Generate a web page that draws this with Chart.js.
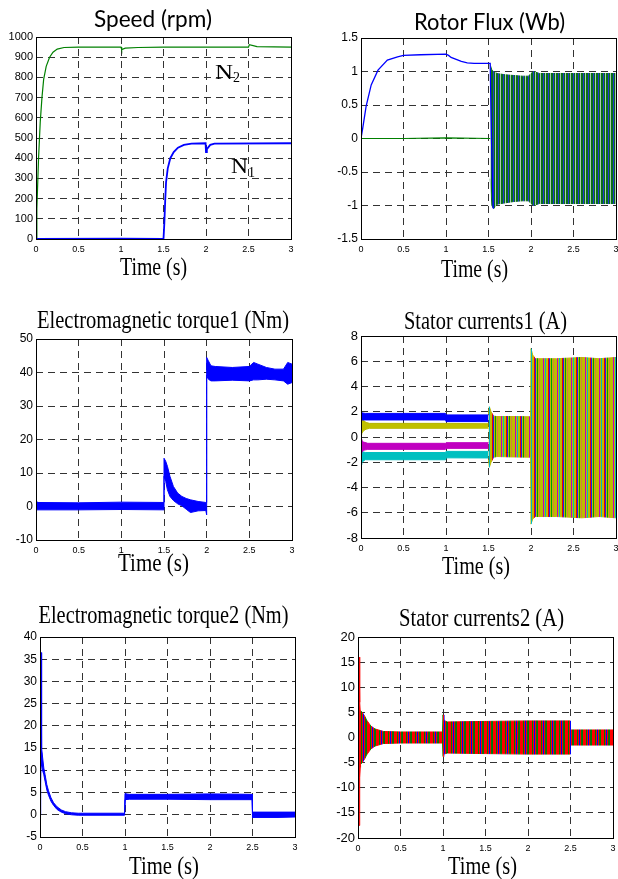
<!DOCTYPE html>
<html>
<head>
<meta charset="utf-8">
<script src="https://cdn.jsdelivr.net/npm/chart.js@4.4.1/dist/chart.umd.min.js"></script>
<style>
  html, body { margin: 0; padding: 0; width: 618px; height: 879px; overflow: hidden; background: #fff; }
  canvas { position: absolute; }
</style>
</head>
<body>
<script>
// ---- data (time in s) ----
const timeAxis = [0, 3, 0.5];

// Speed (rpm)
const speedAxis = [0, 1000, 100];
const speedT2 = [0, 0.01, 0.03, 0.05, 0.07, 0.09, 0.12, 0.16, 0.2, 0.25, 0.33, 0.5, 1.0, 1.008, 1.05, 1.2, 1.5, 2.5, 2.51, 2.6, 3.0];
const speedN2 = [0, 150, 400, 580, 700, 790, 855, 900, 925, 940, 948, 950, 950, 938, 945, 948, 950, 950, 962, 952, 950];
const speedT1 = [0, 1.0, 1.5, 1.51, 1.52, 1.53, 1.55, 1.58, 1.62, 1.67, 1.74, 1.83, 1.995, 2.0, 2.01, 2.05, 2.1, 3.0];
const speedN1 = [0, 2, 0, 80, 190, 280, 350, 400, 430, 452, 466, 472, 474, 430, 445, 466, 472, 474];

// Rotor flux (Wb)
const fluxAxis = [-1.5, 1.5, 0.5];
const fluxDT = [0, 0.02, 0.06, 0.12, 0.2, 0.31, 0.43, 0.5, 0.7, 1.0, 1.03, 1.06, 1.12, 1.18, 1.25, 1.33, 1.45, 1.52, 1.535, 1.555];
const fluxD = [0, 0.15, 0.48, 0.8, 1.02, 1.17, 1.22, 1.24, 1.25, 1.26, 1.24, 1.21, 1.18, 1.15, 1.13, 1.12, 1.12, 1.12, 0, -1.04];
const fluxQT = [0, 0.5, 1.0, 1.52];
const fluxQ = [0, 0, 0.01, 0];
const fluxBandT = [1.52, 1.54, 1.56, 1.6, 1.7, 1.8, 1.9, 1.97, 2.0, 2.03, 2.1, 2.5, 3.0];
const fluxBandHi = [1.1, 1.02, 1.0, 0.97, 0.95, 0.94, 0.93, 0.93, 0.97, 1.0, 0.97, 0.97, 0.97];
const fluxBandLo = [-0.6, -1.0, -1.05, -0.98, -0.96, -0.94, -0.93, -0.93, -0.97, -1.0, -0.97, -0.97, -0.97];

// Electromagnetic torque1 (Nm)
const torque1Axis = [-10, 50, 10];
const torque1T = [0, 0.01, 0.5, 1.0, 1.5, 1.5, 1.52, 1.54, 1.57, 1.61, 1.66, 1.71, 1.76, 1.81, 1.9, 1.99, 2.0, 2.0, 2.02, 2.05, 2.1, 2.3, 2.5, 2.55, 2.6, 2.7, 2.8, 2.9, 2.95, 3.0];
const torque1Hi = [1.5, 1.2, 1.1, 1.3, 1.2, 14.4, 13.5, 12, 9, 6, 4, 3, 2.4, 2, 1.5, 1.2, 1.2, 44.5, 43.5, 42, 41.8, 41.5, 41.8, 43, 42.5, 41.5, 41, 41, 43, 42.5];
const torque1Lo = [-1.0, -1.0, -1.0, -0.9, -1.0, 9, 7.5, 5, 3, 1.8, 0.8, 0.2, -0.8, -1.8, -1.3, -1.2, -2.5, 39, 38, 37.5, 37.5, 37.7, 37.5, 37.8, 37.8, 38, 37.8, 37.5, 36.5, 37];

// Stator currents1 (A)
const cur1Axis = [-8, 8, 2];
const cur1BlueT = [0, 0.005, 0.02, 0.05, 0.995, 1.0, 1.5];
const cur1BlueHi = [2.2, 2.0, 1.9, 1.87, 1.87, 1.75, 1.75];
const cur1BlueLo = [1.3, 1.3, 1.35, 1.35, 1.35, 1.22, 1.22];
const cur1OliveT = [0, 0.01, 0.03, 0.06, 0.1, 1.0, 1.5];
const cur1OliveHi = [1.6, 1.5, 1.3, 1.15, 1.08, 1.08, 1.05];
const cur1OliveLo = [0.2, 0.3, 0.5, 0.62, 0.69, 0.69, 0.7];
const cur1MagT = [0, 0.01, 0.03, 0.08, 0.995, 1.0, 1.5];
const cur1MagHi = [-0.2, -0.3, -0.4, -0.5, -0.5, -0.45, -0.45];
const cur1MagLo = [-1.3, -1.2, -1.05, -0.98, -0.98, -0.9, -0.9];
const cur1CyanT = [0, 0.01, 0.05, 0.995, 1.0, 1.5];
const cur1CyanHi = [-1.1, -1.15, -1.23, -1.23, -1.14, -1.14];
const cur1CyanLo = [-2.2, -2.0, -1.8, -1.8, -1.65, -1.66];
const cur1BandT = [1.5, 1.51, 1.53, 1.56, 1.6, 1.8, 1.995, 2.0, 2.02, 2.05, 2.3, 2.6, 2.8, 3.0];
const cur1BandHi = [1.8, 2.4, 2.0, 1.65, 1.62, 1.62, 1.6, 7.0, 6.5, 6.2, 6.2, 6.3, 6.2, 6.3];
const cur1BandLo = [-1.8, -2.4, -2.0, -1.6, -1.55, -1.58, -1.6, -6.9, -6.5, -6.3, -6.3, -6.4, -6.3, -6.4];

// Electromagnetic torque2 (Nm)
const torque2Axis = [-5, 40, 5];
const torque2T = [0, 0.008, 0.012, 0.016, 0.022, 0.03, 0.045, 0.06, 0.08, 0.1, 0.13, 0.16, 0.2, 0.25, 0.3, 0.37, 0.45, 0.995, 1.0, 1.01, 1.05, 1.5, 2.0, 2.495, 2.5, 2.8, 3.0];
const torque2Hi = [0, 36.5, 36.5, 18, 15, 13, 10.5, 9, 6.8, 5.4, 3.8, 2.7, 1.8, 1.1, 0.7, 0.45, 0.35, 0.35, 4.8, 4.7, 4.6, 4.6, 4.7, 4.6, 0.6, 0.6, 0.6];
const torque2Lo = [0, 0, 14, 12, 11, 10, 9, 7.5, 5.6, 4.4, 3.0, 2.1, 1.2, 0.6, 0.25, 0.0, -0.1, -0.1, 3.4, 3.4, 3.5, 3.5, 3.4, 3.4, -0.6, -0.6, -0.5];

// Stator currents2 (A)
const cur2Axis = [-20, 20, 5];
const cur2T = [0, 0.012, 0.018, 0.022, 0.026, 0.03, 0.05, 0.08, 0.1, 0.15, 0.2, 0.3, 0.5, 0.995, 1.0, 1.01, 1.05, 1.5, 2.0, 2.495, 2.5, 3.0];
const cur2Hi = [0, 16, 15, 7, 5.2, 5.3, 5.0, 4.2, 3.5, 2.3, 1.7, 1.2, 1.1, 1.1, 4.5, 3.4, 3.1, 3.2, 3.3, 3.3, 1.5, 1.5];
const cur2Lo = [0, -17.5, -12, -8, -6, -5.3, -5.0, -4.2, -3.5, -2.3, -1.7, -1.2, -1.1, -1.1, -3.8, -3.3, -3.1, -3.2, -3.3, -3.3, -1.5, -1.5];

// ---- drawing ----
const SANS = "'Liberation Sans', Arial, sans-serif";
const SERIF = "'Liberation Serif', 'Times New Roman', serif";
const TITLE_SANS = "Lato, 'Open Sans', sans-serif";

// vertical stripes used for the dense oscillation regions
function stripes(cols) {
  const c = document.createElement('canvas');
  c.width = cols.length;
  c.height = 4;
  const g = c.getContext('2d');
  cols.forEach((col, i) => { g.fillStyle = col; g.fillRect(i, 0, 1, 4); });
  return g.createPattern(c, 'repeat');
}

function pts(xs, ys) {
  return xs.map((x, i) => ({ x: x, y: ys[i] }));
}

function line(xs, ys, color, width) {
  return { data: pts(xs, ys), borderColor: color, borderWidth: width, pointRadius: 0, fill: false, tension: 0 };
}

// a noisy trace drawn as the band between its upper and lower envelope
function band(xs, hi, lo, color, edge) {
  return [
    { data: pts(xs, hi), borderColor: edge || color, borderWidth: 1, backgroundColor: color, pointRadius: 0, fill: '+1', tension: 0 },
    { data: pts(xs, lo), borderColor: edge || color, borderWidth: 1, pointRadius: 0, fill: false, tension: 0 }
  ];
}

function makeChart(box, axis, yFontSize, datasets, texts) {
  const padL = 45, padT = 45, padB = 45, padR = 12;
  const w = box[2] - box[0], h = box[3] - box[1];
  const ox = box[0] - padL, oy = box[1] - padT;
  const cw = w + padL + padR, ch = h + padT + padB;
  const canvas = document.createElement('canvas');
  canvas.width = cw;
  canvas.height = ch;
  canvas.style.left = ox + 'px';
  canvas.style.top = oy + 'px';
  canvas.style.width = cw + 'px';
  canvas.style.height = ch + 'px';
  document.body.appendChild(canvas);

  const frame = {
    id: 'frame',
    afterDatasetsDraw(chart) {
      const a = chart.chartArea, ctx = chart.ctx;
      ctx.save();
      ctx.strokeStyle = '#000';
      ctx.lineWidth = 1;
      ctx.strokeRect(Math.round(a.left) + 0.5, Math.round(a.top) + 0.5, Math.round(a.right - a.left), Math.round(a.bottom - a.top));
      ctx.restore();
    },
    afterDraw(chart) {
      const ctx = chart.ctx;
      texts.forEach((t) => {
        ctx.save();
        ctx.font = t.size + 'px ' + t.family;
        ctx.fillStyle = '#000';
        ctx.textBaseline = 'alphabetic';
        ctx.textAlign = t.align || 'center';
        const mw = ctx.measureText(t.text).width;
        ctx.translate(t.x - ox, t.y - oy);
        if (t.width) ctx.scale(t.width / mw, 1);
        ctx.fillText(t.text, 0, 0);
        ctx.restore();
      });
    }
  };

  const fmt = (v) => String(Math.round(v * 100) / 100);

  return new Chart(canvas, {
    type: 'line',
    data: { datasets: datasets },
    options: {
      responsive: false,
      animation: false,
      events: [],
      layout: { padding: { top: padT, right: padR, left: 0, bottom: 0 } },
      plugins: { legend: { display: false }, tooltip: { enabled: false }, title: { display: false } },
      scales: {
        x: {
          type: 'linear', min: timeAxis[0], max: timeAxis[1],
          ticks: { stepSize: timeAxis[2], font: { family: SANS, size: 9 }, color: '#000', padding: 5, maxRotation: 0, autoSkip: false, callback: fmt },
          grid: { color: '#333', lineWidth: 1, drawTicks: false },
          border: { display: false, dash: [7, 5] },
          afterFit(s) { s.height = padB; }
        },
        y: {
          type: 'linear', min: axis[0], max: axis[1],
          ticks: { stepSize: axis[2], font: { family: SANS, size: yFontSize }, color: '#000', padding: 3, autoSkip: false, callback: fmt },
          grid: { color: '#333', lineWidth: 1, drawTicks: false },
          border: { display: false, dash: [7, 5] },
          afterFit(s) { s.width = padL; }
        }
      }
    },
    plugins: [frame]
  });
}

const BLUE = '#0000ff', GREEN = '#008000';

// 1 - Speed
makeChart([36, 37, 291, 239], speedAxis, 11, [
  line(speedT1, speedN1, BLUE, 1.8),
  line(speedT2, speedN2, GREEN, 1.2)
], [
  { text: 'Speed (rpm)', family: TITLE_SANS, size: 23, x: 153, y: 27, width: 118 },
  { text: 'Time (s)', family: SERIF, size: 25, x: 153.5, y: 275, width: 67 },
  { text: 'N', family: SERIF, size: 22, x: 215, y: 79, width: 18, align: 'left' },
  { text: '2', family: SERIF, size: 14, x: 233, y: 82, align: 'left' },
  { text: 'N', family: SERIF, size: 22, x: 231, y: 173, width: 17, align: 'left' },
  { text: '1', family: SERIF, size: 14, x: 248, y: 177, align: 'left' }
]);

// 2 - Rotor flux
const fluxStripes = stripes(['#0a7018', '#0a7018', '#2236d0', '#0a7018', '#a8cbb0']);
makeChart([361, 38, 616, 239], fluxAxis, 12, [
  line(fluxDT, fluxD, BLUE, 1.3),
  line(fluxQT, fluxQ, GREEN, 1.2),
  ...band(fluxBandT, fluxBandHi, fluxBandLo, fluxStripes)
], [
  { text: 'Rotor Flux (Wb)', family: TITLE_SANS, size: 23, x: 489.5, y: 30, width: 151 },
  { text: 'Time (s)', family: SERIF, size: 25, x: 474.5, y: 277, width: 67 }
]);

// 3 - Torque 1
makeChart([36, 339, 292, 540], torque1Axis, 12, [
  ...band(torque1T, torque1Hi, torque1Lo, BLUE)
], [
  { text: 'Electromagnetic torque1 (Nm)', family: SERIF, size: 26, x: 163, y: 328, width: 252 },
  { text: 'Time (s)', family: SERIF, size: 25, x: 153.5, y: 571, width: 71 }
]);

// 4 - Stator currents 1
const cur1Stripes = stripes(['#bcbc00', '#bcbc00', '#bcbc00', '#c000c0', '#bcbc00', '#00b8c0', '#bcbc00', '#bcbc00', '#f00000', '#2020f0', '#bcbc00', '#00a000', '#bcbc00', '#d08040']);
makeChart([361, 336, 616, 538], cur1Axis, 13, [
  ...band(cur1BlueT, cur1BlueHi, cur1BlueLo, BLUE),
  ...band(cur1OliveT, cur1OliveHi, cur1OliveLo, '#c0c000', '#b5b500'),
  ...band(cur1MagT, cur1MagHi, cur1MagLo, '#c000c0'),
  ...band(cur1CyanT, cur1CyanHi, cur1CyanLo, '#00c0c0'),
  ...band(cur1BandT, cur1BandHi, cur1BandLo, cur1Stripes)
], [
  { text: 'Stator currents1 (A)', family: SERIF, size: 26, x: 485.5, y: 329, width: 163 },
  { text: 'Time (s)', family: SERIF, size: 25, x: 476, y: 574, width: 68 }
]);

// 5 - Torque 2
makeChart([40, 637, 295, 837], torque2Axis, 12, [
  ...band(torque2T, torque2Hi, torque2Lo, BLUE)
], [
  { text: 'Electromagnetic torque2 (Nm)', family: SERIF, size: 26, x: 163.5, y: 623, width: 250 },
  { text: 'Time (s)', family: SERIF, size: 25, x: 164, y: 874, width: 70 }
]);

// 6 - Stator currents 2
const cur2Stripes = stripes(['#ff0000', '#ff0000', '#ff0000', '#008000', '#ff0000', '#0000ff', '#ff0000', '#107010', '#008000']);
makeChart([358, 637, 613, 838], cur2Axis, 13, [
  ...band(cur2T, cur2Hi, cur2Lo, cur2Stripes)
], [
  { text: 'Stator currents2 (A)', family: SERIF, size: 26, x: 481.5, y: 626, width: 165 },
  { text: 'Time (s)', family: SERIF, size: 25, x: 482.5, y: 874, width: 69 }
]);
</script>
</body>
</html>
